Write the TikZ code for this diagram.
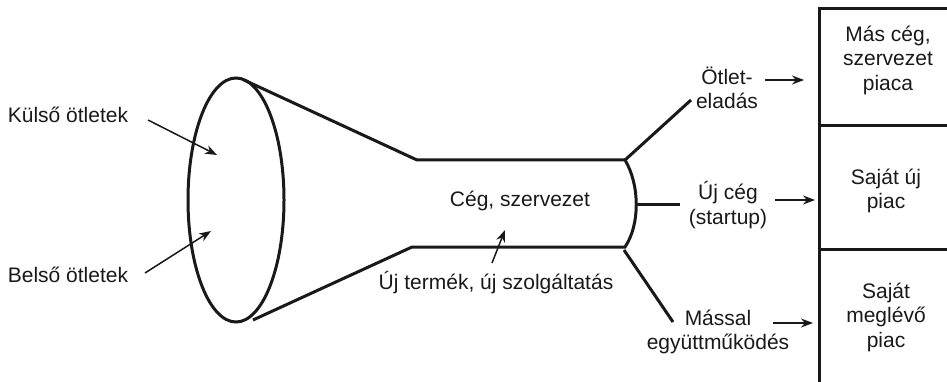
\documentclass[tikz,border=0pt]{standalone}
\usepackage{fontspec}
\setmainfont{Liberation Sans}
\usetikzlibrary{arrows.meta}
\begin{document}
\begin{tikzpicture}[x=1pt,y=-1pt,
  thickline/.style={line width=3pt,color=black!90},
  boxline/.style={line width=3pt,color=black!90},
  lbl/.style={font=\fontsize{21}{24.5}\selectfont,align=center,inner sep=0pt,text=black!90},
  arr/.style={line width=1.5pt,-{Stealth[length=12pt,width=9pt]},color=black!90}]
\useasboundingbox (0,0) rectangle (947,382);
% funnel
\draw[thickline] (236,200) ellipse [x radius=48, y radius=122];
\draw[thickline] (244,80) -- (417,160) -- (625,160)
  .. controls (640,185) and (640,225) .. (625,247) -- (412,247) -- (253,320);
% branches
\draw[thickline] (625,160) -- (691,100);
\draw[thickline] (636,204) -- (680,204);
\draw[thickline] (624,250) -- (673,322);
% boxes
\draw[boxline] (948,9) -- (819,9) -- (819,383);
\draw[boxline] (819,126) -- (948,126);
\draw[boxline] (819,249) -- (948,249);
% labels
\node[lbl] (kulso) at (68,115) {Külső ötletek};
\node[lbl] (belso) at (68,275) {Belső ötletek};
\node[lbl] (ceg) at (520,201) {Cég, szervezet};
\node[lbl] (ujtermek) at (496,283) {Új termék, új szolgáltatás};
\node[lbl] (otlet) at (727,88) {Ötlet-\\eladás};
\node[lbl] (ujceg) at (728,205) {Új cég\\(startup)};
\node[lbl] (massal) at (718,332) {Mással\\együttműködés};
\node[lbl] (box1) at (888,60) {Más cég,\\szervezet\\piaca};
\node[lbl] (box2) at (886,191) {Saját új\\piac};
\node[lbl] (box3) at (886,317) {Saját\\meglévő\\piac};
% arrows
\coordinate (k1) at (148,120); \coordinate (k2) at (217,155);
\coordinate (b1) at (145,273); \coordinate (b2) at (211,231);
\coordinate (u1) at (492,263); \coordinate (u2) at (505,230);
\coordinate (o1) at (765,80); \coordinate (o2) at (804,80);
\coordinate (c1) at (775,200); \coordinate (c2) at (815,200);
\coordinate (m1) at (773,323); \coordinate (m2) at (813,323);
\draw[arr] (k1) -- (k2);
\draw[arr] (b1) -- (b2);
\draw[arr] (u1) -- (u2);
\draw[arr] (o1) -- (o2);
\draw[arr] (c1) -- (c2);
\draw[arr] (m1) -- (m2);
\end{tikzpicture}
\end{document}
